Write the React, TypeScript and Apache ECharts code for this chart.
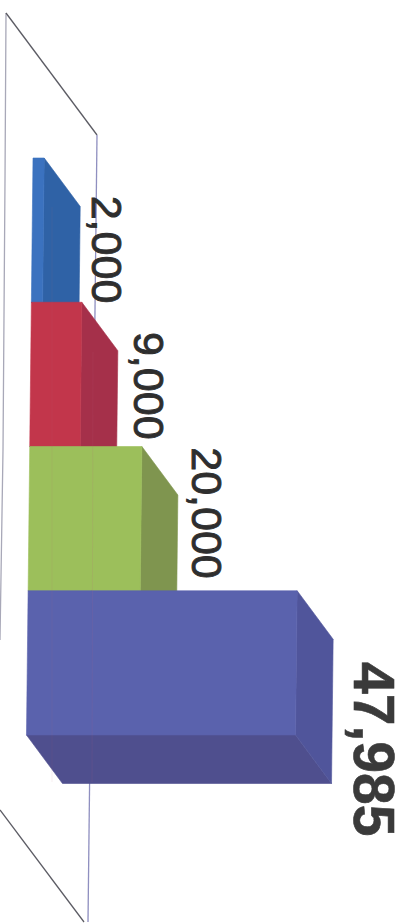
import React, { useEffect, useRef } from "react";
import * as echarts from "echarts";

const categories = ["A", "B", "C", "D"];
const values = [2000, 9000, 20000, 47985];

const frontColors = ["#3b72bf", "#c2364b", "#9cbf5b", "#5a62ad"];
const sideColors = ["#2f62a6", "#a5304a", "#7f954f", "#50559b"];
const bottomColor = "#4f4f8e";
const labelSizes = [43, 43, 43, 57];
const labelStrokes = [0.9, 0.9, 0.9, 0.6];
const labelWeights = ["normal", "normal", "normal", "bold"];
const labelColors = ["#2e2e2e", "#2e2e2e", "#2e2e2e", "#3a3a3a"];
// label centre relative to the far corner of each bar's top, px
const labelDx = [27, 31, 29, 41];
const labelDy = [43, 35, 18, 110];

const DEPTH_X = 36;
const DEPTH_Y = 48.5;
const SKEW = -0.0113;

const renderItem = (params: any, api: any) => {
  const i = params.dataIndex;
  const end = api.coord([api.value(0), i]);
  const base = api.coord([0, i]);
  const band = api.size([0, 1])[1];
  const top = base[1] - band / 2;
  const bottom = base[1] + band / 2;
  const shift = (y: number) => SKEW * (y - 158) + 3;
  const tl: number[] = [base[0] + shift(top), top];
  const bl: number[] = [base[0] + shift(bottom), bottom];
  const tr: number[] = [end[0] + shift(top), top];
  const br: number[] = [end[0] + shift(bottom), bottom];
  const back = (p: number[]) => [p[0] + DEPTH_X, p[1] + DEPTH_Y];
  const face = (points: number[][], fill: string) => ({
    type: "polygon",
    shape: { points },
    style: { fill, stroke: fill, lineWidth: 0.6 },
  });
  const children: any[] = [
    face([bl, br, back(br), back(bl)], bottomColor),
    face([tr, back(tr), back(br), br], sideColors[i]),
    face([tl, tr, br, bl], frontColors[i]),
    {
      type: "text",
      x: back(tr)[0] + labelDx[i],
      y: back(tr)[1] + labelDy[i],
      rotation: -Math.PI / 2,
      style: {
        text: api.value(0).toLocaleString("en-US"),
        fontSize: labelSizes[i],
        fontWeight: labelWeights[i],
        fontFamily: "Liberation Sans",
        fill: labelColors[i],
        stroke: labelColors[i],
        lineWidth: labelStrokes[i],
        align: "center",
        verticalAlign: "middle",
      },
    },
  ];
  return { type: "group", children };
};

export default function App() {
  const ref = useRef<HTMLDivElement>(null);
  useEffect(() => {
    const chart = echarts.init(ref.current!, undefined, { renderer: "svg" });
    const wall = (points: number[][], stroke: string, lineWidth = 1.3, z = -1) => ({
      type: "polyline",
      silent: true,
      z,
      shape: { points },
      style: { fill: "none", stroke, lineWidth },
    });
    chart.setOption({
      animation: false,
      backgroundColor: "#ffffff",
      grid: { left: 30, top: 158, width: 336.4, height: 577 },
      xAxis: { type: "value", min: 0, max: 60000, show: false },
      yAxis: { type: "category", data: categories, inverse: true, show: false },
      graphic: [
        wall([[6, 13], [5, 180], [3, 450], [0, 640]], "#a8a8b8"),
        wall([[6, 13], [97, 135]], "#5c5c64"),
        wall([[97, 135], [88, 922]], "#8f8fc0"),
        wall([[0, 810], [84, 922]], "#5c5c64"),
        wall([[52, 207], [52, 782]], "rgba(190,100,130,0.1)", 1, 10),
        wall([[93, 352], [92, 782]], "rgba(190,100,130,0.12)", 1, 10),
      ],
      series: [
        {
          type: "custom",
          renderItem,
          clip: false,
          z: 5,
          encode: { x: 0, y: 1 },
          data: values.map((v, i) => [v, i]),
        },
      ],
    });
    return () => chart.dispose();
  }, []);
  return (
    <div
      ref={ref}
      style={{ position: "fixed", left: 0, top: 0, width: 406, height: 924 }}
    />
  );
}
